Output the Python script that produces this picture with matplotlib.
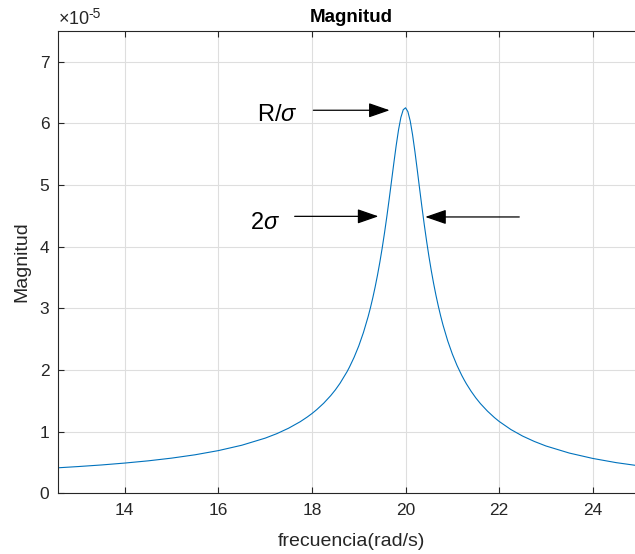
import matplotlib
matplotlib.use('Agg')
import matplotlib.pyplot as plt
import numpy as np

# frequency (rad/s) and magnitude (x 1e-5)
freq = [12.566, 13.0, 13.5, 14.0, 14.5, 15.0, 15.5, 16.0, 16.5, 17.0, 17.25,
        17.5, 17.75, 17.9, 18.0, 18.1, 18.25, 18.4, 18.5, 18.6, 18.75, 18.8,
        18.9, 19.0, 19.1, 19.2, 19.25, 19.3, 19.35, 19.4, 19.45, 19.5, 19.55,
        19.6, 19.65, 19.7, 19.75, 19.8, 19.85, 19.9, 19.95, 20.0, 20.05, 20.1,
        20.15, 20.2, 20.25, 20.3, 20.35, 20.4, 20.45, 20.5, 20.55, 20.6, 20.65,
        20.7, 20.75, 20.8, 20.9, 21.0, 21.1, 21.2, 21.25, 21.3, 21.4, 21.5,
        21.6, 21.75, 21.9, 22.0, 22.25, 22.5, 22.75, 23.0, 23.5, 24.0, 24.5,
        25.13]
mag = [0.413, 0.433, 0.459, 0.490, 0.526, 0.570, 0.624, 0.692, 0.779, 0.894,
       0.967, 1.055, 1.161, 1.237, 1.293, 1.355, 1.460, 1.583, 1.677, 1.784,
       1.972, 2.044, 2.204, 2.389, 2.607, 2.864, 3.010, 3.170, 3.345, 3.536,
       3.745, 3.973, 4.221, 4.487, 4.769, 5.063, 5.357, 5.640, 5.893, 6.094,
       6.218, 6.250, 6.187, 6.035, 5.811, 5.540, 5.244, 4.939, 4.640, 4.354,
       4.087, 3.837, 3.609, 3.400, 3.209, 3.035, 2.875, 2.729, 2.473, 2.257,
       2.072, 1.913, 1.842, 1.775, 1.655, 1.548, 1.454, 1.332, 1.227, 1.165,
       1.034, 0.928, 0.841, 0.767, 0.652, 0.565, 0.497, 0.430]

xticks = [14, 16, 18, 20, 22, 24]
yticks = [0, 1, 2, 3, 4, 5, 6, 7]

plt.rcParams['font.family'] = ['Liberation Sans', 'DejaVu Sans']
plt.rcParams['mathtext.fontset'] = 'custom'
plt.rcParams['mathtext.rm'] = 'Liberation Sans'
plt.rcParams['mathtext.it'] = 'Liberation Sans:italic'

axcol = '#262626'

fig = plt.figure(figsize=(6.35, 5.54), dpi=100)
ax = fig.add_axes([0.0909, 0.1096, 0.926, 0.835])

ax.plot(freq, mag, color='#0072BD', lw=0.8)

ax.set_xlim(4 * np.pi, 8 * np.pi)
ax.set_ylim(0, 7.5)
ax.set_xticks(xticks)
ax.set_yticks(yticks)
ax.grid(True, color='#dedede', lw=0.8)
ax.set_axisbelow(True)
ax.tick_params(direction='in', length=4.5, width=0.8, top=True, right=True,
               labelsize=12.5, colors=axcol)
ax.tick_params(axis='x', pad=7)
ax.tick_params(axis='y', pad=6)
for s in ax.spines.values():
    s.set_color(axcol)
    s.set_linewidth(0.8)

ax.set_title('Magnitud', fontsize=13.5, fontweight='bold', color='black', pad=6)
ax.set_xlabel('frecuencia(rad/s)', fontsize=14, color=axcol, labelpad=11)
ax.set_ylabel('Magnitud', fontsize=14, color=axcol, labelpad=7)

# exponent label like MATLAB: x10 with a raised -5
ax.text(0.0, 1.006, r'$\times$10', transform=ax.transAxes,
        fontsize=13, color=axcol, ha='left', va='bottom')
ax.annotate('-5', xy=(0.0, 1.006), xycoords='axes fraction',
            xytext=(22, 5), textcoords='offset points',
            fontsize=10, color=axcol, ha='left', va='bottom')

arrow = dict(arrowstyle='-|>,head_length=1.3,head_width=0.45', color='black',
             lw=0.9, shrinkA=0, shrinkB=0)
ax.annotate('', xy=(19.66, 6.21), xytext=(18.03, 6.21), arrowprops=arrow)
ax.annotate('', xy=(19.42, 4.49), xytext=(17.63, 4.49), arrowprops=arrow)
ax.annotate('', xy=(20.42, 4.48), xytext=(22.43, 4.48), arrowprops=arrow)

ax.text(16.83, 6.13, r'R/$\sigma$', fontsize=17, ha='left', va='center')
ax.text(16.68, 4.38, r'2$\sigma$', fontsize=17, ha='left', va='center')

fig.savefig('out.png', dpi=100)
